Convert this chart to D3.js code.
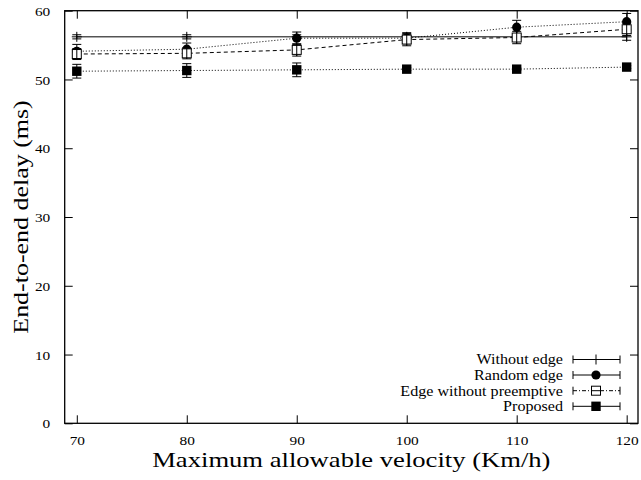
<!DOCTYPE html>
<html><head><meta charset="utf-8">
<script src="https://cdn.jsdelivr.net/npm/d3@7"></script>
</head><body style="margin:0"><svg id="c" width="641" height="480" style="display:block"></svg>
<script>
const velocities = [70, 80, 90, 100, 110, 120];
const withoutEdge = [56.2, 56.2, 56.2, 56.2, 56.2, 56.2];
const withoutEdgeErr = [0.3, 0.3, 0.3, 0.3, 0.3, 0.5];
const randomEdge = [54.1, 54.4, 56.0, 56.0, 57.6, 58.4];
const randomEdgeErr = [1.0, 0.9, 0.9, 0.8, 1.0, 1.2];
const edgeNoPreempt = [53.7, 53.8, 54.3, 55.8, 56.1, 57.3];
const edgeNoPreemptErr = [0.8, 0.8, 0.9, 0.9, 0.9, 0.9];
const proposed = [51.2, 51.3, 51.4, 51.5, 51.5, 51.8];
const proposedErr = [1.0, 1.0, 1.0, 0.2, 0.2, 0.2];
const xTicks = [70, 80, 90, 100, 110, 120];
const yTicks = [0, 10, 20, 30, 40, 50, 60];
const seriesNames = ["Without edge", "Random edge", "Edge without preemptive", "Proposed"];

const SERIF = '"Liberation Serif"';
const SX = 1.18; // horizontal stretch of the reference typeface
const svg = d3.select("#c");
const L = 64.7, R = 638, T = 10.7, B = 423.3;
const x = d3.scaleLinear().domain([68.9, 121.03]).range([L, R]);
const y = d3.scaleLinear().domain([0, 60]).range([B, T]);

const series = [
  {name: seriesNames[0], v: withoutEdge, e: withoutEdgeErr, marker: "plus", dash: null},
  {name: seriesNames[1], v: randomEdge, e: randomEdgeErr, marker: "circle", dash: "1,2"},
  {name: seriesNames[2], v: edgeNoPreempt, e: edgeNoPreemptErr, marker: "osquare", dash: "4,3"},
  {name: seriesNames[3], v: proposed, e: proposedErr, marker: "fsquare", dash: "1,2"}
];

const tl = 8;
const gx = svg.append("g").attr("transform", `translate(0,${B})`)
  .call(d3.axisBottom(x).tickValues(xTicks).tickSize(-tl));
const gxt = svg.append("g").attr("transform", `translate(0,${T})`)
  .call(d3.axisTop(x).tickValues(xTicks).tickSize(-tl).tickFormat(""));
const gy = svg.append("g").attr("transform", `translate(${L},0)`)
  .call(d3.axisLeft(y).tickValues(yTicks).tickSize(-tl));
const gyr = svg.append("g").attr("transform", `translate(${R},0)`)
  .call(d3.axisRight(y).tickValues(yTicks).tickSize(-tl).tickFormat(""));
[gx, gxt, gy, gyr].forEach(g => {
  g.attr("font-family", null).attr("font-size", null);
  g.select(".domain").remove();
  g.selectAll("line").attr("stroke", "#000").attr("stroke-width", 1);
  g.selectAll("text").style("font-family", SERIF).style("font-size", "13px").attr("fill", "#000");
});
gx.selectAll("text").attr("x", 0).attr("y", 0).attr("dy", "0.35em")
  .attr("transform", `translate(0,17.4) scale(${SX},1)`);
gy.selectAll("text").attr("x", 0).attr("y", 0).attr("dy", "0.35em")
  .attr("transform", `translate(-14.5,0) scale(${SX},1)`);

svg.append("rect").attr("x", L).attr("y", T).attr("width", R - L).attr("height", B - T)
  .attr("fill", "none").attr("stroke", "#000").attr("stroke-width", 1.3);

const line = d3.line().x((d, i) => x(velocities[i])).y(d => y(d));
series.forEach(s => {
  svg.append("path").attr("d", line(s.v)).attr("fill", "none").attr("stroke", "#000")
    .attr("stroke-width", 1).attr("stroke-dasharray", s.dash);
});

function drawMarker(g, type, cx, cy) {
  if (type === "plus") {
    g.append("line").attr("x1", cx - 5).attr("x2", cx + 5).attr("y1", cy).attr("y2", cy).attr("stroke", "#000");
    g.append("line").attr("x1", cx).attr("x2", cx).attr("y1", cy - 5).attr("y2", cy + 5).attr("stroke", "#000");
  } else if (type === "circle") {
    g.append("circle").attr("cx", cx).attr("cy", cy).attr("r", 4.6).attr("fill", "#000");
  } else if (type === "osquare") {
    g.append("rect").attr("x", cx - 4.5).attr("y", cy - 4.5).attr("width", 9).attr("height", 9)
      .attr("fill", "#fff").attr("stroke", "#000").attr("stroke-width", 1);
  } else {
    g.append("rect").attr("x", cx - 4.7).attr("y", cy - 4.7).attr("width", 9.4).attr("height", 9.4).attr("fill", "#000");
  }
}

const cap = 4.5;
series.forEach(s => {
  const g = svg.append("g");
  s.v.forEach((v, i) => {
    const cx = x(velocities[i]);
    const y1 = y(v + s.e[i]), y2 = y(v - s.e[i]);
    g.append("line").attr("x1", cx).attr("x2", cx).attr("y1", y1).attr("y2", y2).attr("stroke", "#000");
    g.append("line").attr("x1", cx - cap).attr("x2", cx + cap).attr("y1", y1).attr("y2", y1).attr("stroke", "#000");
    g.append("line").attr("x1", cx - cap).attr("x2", cx + cap).attr("y1", y2).attr("y2", y2).attr("stroke", "#000");
  });
});
series.forEach(s => {
  const g = svg.append("g");
  s.v.forEach((v, i) => {
    drawMarker(g, s.marker, x(velocities[i]), y(v));
    if (s.marker === "osquare") {
      const cx = x(velocities[i]);
      g.append("line").attr("x1", cx).attr("x2", cx).attr("y1", y(v + s.e[i])).attr("y2", y(v - s.e[i])).attr("stroke", "#000");
    }
  });
});

const legY = [359.5, 375, 390.7, 406.3];
const lx1 = 573, lx2 = 620, lmx = 596;
series.forEach((s, i) => {
  const ly = legY[i];
  svg.append("text").style("font-family", SERIF).style("font-size", "14px")
    .attr("transform", `translate(563,${ly}) scale(1.15,1)`).attr("dy", "0.35em").attr("text-anchor", "end").text(s.name);
  svg.append("line").attr("x1", lx1).attr("x2", lx2).attr("y1", ly).attr("y2", ly).attr("stroke", "#000")
    .attr("stroke-dasharray", s.marker === "osquare" ? "4,2,1,2" : null);
  [lx1, lx2].forEach(xx => svg.append("line").attr("x1", xx).attr("x2", xx).attr("y1", ly - 4).attr("y2", ly + 4).attr("stroke", "#000"));
  const g = svg.append("g");
  drawMarker(g, s.marker, lmx, ly);
  if (s.marker === "osquare") g.append("line").attr("x1", lmx - 4.5).attr("x2", lmx + 4.5).attr("y1", ly).attr("y2", ly).attr("stroke", "#000");
});

svg.append("text").style("font-family", SERIF).style("font-size", "22px")
  .attr("transform", `translate(${(L + R) / 2},466.7) scale(1.21,1)`).attr("text-anchor", "middle")
  .text("Maximum allowable velocity (Km/h)");
svg.append("text").style("font-family", SERIF).style("font-size", "22px")
  .attr("transform", `translate(28,217) rotate(-90) scale(${SX},1)`).attr("text-anchor", "middle")
  .text("End-to-end delay (ms)");
</script></body></html>
